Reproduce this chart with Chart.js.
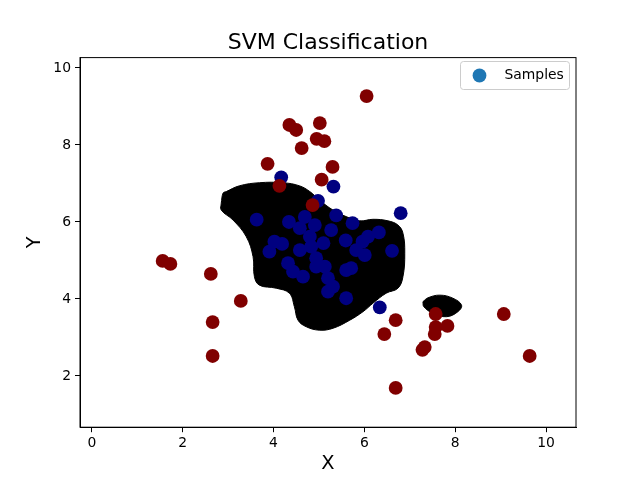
<!DOCTYPE html>
<html>
<head>
<meta charset="utf-8">
<script src="https://cdn.jsdelivr.net/npm/chart.js@4.4.0/dist/chart.umd.min.js"></script>
<style>
  body { margin: 0; background: #fff; }
</style>
</head>
<body>
<canvas id="svmChart" width="640" height="480"></canvas>
<script>
// class 0 samples (blue)
var blueX = [4.17, 5.32, 4.98, 6.80, 3.63, 4.34, 4.69, 4.91, 5.38, 5.74, 5.27, 4.58, 4.80, 6.32, 6.08, 5.96, 5.59, 5.10, 4.83, 4.02,
             4.19, 3.91, 4.58, 5.82, 6.61, 6.01, 4.94, 4.32, 4.43, 4.65, 4.94, 5.13, 5.60, 5.71, 5.20, 5.31, 5.20, 5.60, 6.34];
var blueY = [7.16, 6.92, 6.55, 6.23, 6.06, 6.00, 6.13, 5.92, 6.17, 5.97, 5.79, 5.84, 5.62, 5.73, 5.62, 5.49, 5.52, 5.45, 5.36, 5.49,
             5.43, 5.23, 5.27, 5.27, 5.25, 5.14, 5.06, 4.93, 4.71, 4.58, 4.84, 4.84, 4.75, 4.80, 4.54, 4.32, 4.19, 4.02, 3.78];

// class 1 samples (red)
var redX = [6.05, 4.35, 4.50, 5.02, 4.62, 4.95, 5.12, 3.87, 5.30, 5.06, 4.13, 4.86, 1.56, 1.73, 2.62, 3.28, 2.66, 2.66, 6.44, 6.69,
            6.69, 7.28, 7.33, 7.57, 7.57, 7.55, 7.83, 9.07, 9.64];
var redY = [9.27, 8.52, 8.39, 8.57, 7.92, 8.16, 8.10, 7.51, 7.43, 7.10, 6.94, 6.44, 4.99, 4.91, 4.65, 3.95, 3.40, 2.52, 3.09, 3.45,
            1.69, 2.68, 2.75, 3.61, 3.27, 3.09, 3.30, 3.61, 2.52];

// decision region outlines
var regionAX = [2.85, 2.89, 2.96, 3.25, 3.69, 4.21, 4.57, 4.80, 5.01, 5.31, 5.60, 5.90, 6.19, 6.52, 6.74, 6.85, 6.89, 6.85, 6.74, 6.48,
                6.19, 5.97, 5.68, 5.31, 5.01, 4.72, 4.54, 4.46, 4.35, 4.06, 3.69, 3.58, 3.55, 3.40, 3.11, 2.85, 2.85];
var regionAY = [6.49, 6.75, 6.79, 6.94, 7.02, 7.02, 6.94, 6.79, 6.57, 6.31, 6.14, 6.03, 6.07, 6.03, 5.92, 5.71, 5.19, 4.58, 4.28, 4.15,
                3.89, 3.67, 3.45, 3.24, 3.19, 3.28, 3.45, 3.80, 4.15, 4.28, 4.36, 4.58, 5.10, 5.62, 6.05, 6.31, 6.49];
var regionBX = [7.29, 7.40, 7.66, 7.95, 8.14, 8.06, 7.81, 7.51, 7.31, 7.29];
var regionBY = [3.93, 4.03, 4.10, 4.02, 3.84, 3.67, 3.54, 3.63, 3.80, 3.93];

var xTicks = [0, 2, 4, 6, 8, 10];
var yTicks = [2, 4, 6, 8, 10];

function toPoints(xs, ys) {
	return xs.map(function(x, i){ return {x: x, y: ys[i]}; });
}

Chart.defaults.font.family = 'DejaVu Sans';
Chart.defaults.color = '#000';

// frame, title and legend box the way matplotlib lays them out
var decorPlugin = {
	id: 'decor',
	afterDatasetsDraw: function(chart){
		var ctx = chart.ctx, a = chart.chartArea;
		ctx.save();
		ctx.strokeStyle = '#000';
		ctx.lineWidth = 1;
		ctx.strokeRect(a.left, a.top, a.right - a.left, a.bottom - a.top);
		ctx.restore();
	},
	afterDraw: function(chart){
		var ctx = chart.ctx, a = chart.chartArea;
		ctx.save();
		ctx.fillStyle = '#000';
		ctx.font = '22px "DejaVu Sans"';
		ctx.textAlign = 'center';
		ctx.textBaseline = 'alphabetic';
		ctx.fillText('SVM Classification', (a.left + a.right) / 2, 49.3);

		// legend
		ctx.beginPath();
		ctx.roundRect(460.5, 61.5, 109, 28, 3);
		ctx.fillStyle = 'rgba(255,255,255,0.8)';
		ctx.fill();
		ctx.strokeStyle = '#cccccc';
		ctx.lineWidth = 1;
		ctx.stroke();

		ctx.beginPath();
		ctx.arc(479.5, 75.5, 6.9, 0, Math.PI * 2);
		ctx.fillStyle = '#1f77b4';
		ctx.fill();

		ctx.fillStyle = '#000';
		ctx.font = '13.9px "DejaVu Sans"';
		ctx.textAlign = 'left';
		ctx.textBaseline = 'middle';
		ctx.fillText('Samples', 504.5, 75.5);
		ctx.restore();
	}
};

var ctx = document.getElementById('svmChart').getContext('2d');
var svmChart = new Chart(ctx, {
	type: 'scatter',
	data: {
		datasets: [
			{ label: 'Samples', data: toPoints(redX, redY), backgroundColor: '#800000', borderWidth: 0, pointRadius: 6.9, pointHoverRadius: 6.9, order: 1 },
			{ label: 'Samples', data: toPoints(blueX, blueY), backgroundColor: '#000080', borderWidth: 0, pointRadius: 6.9, pointHoverRadius: 6.9, order: 2 },
			{ label: 'regionA', data: toPoints(regionAX, regionAY), showLine: true, fill: 'shape', tension: 0.4,
			  backgroundColor: '#000', borderColor: '#000', borderWidth: 1, pointRadius: 0, order: 3 },
			{ label: 'regionB', data: toPoints(regionBX, regionBY), showLine: true, fill: 'shape', tension: 0.4,
			  backgroundColor: '#000', borderColor: '#000', borderWidth: 1, pointRadius: 0, order: 3 }
		]
	},
	options: {
		responsive: false,
		animation: false,
		events: [],
		layout: { padding: { top: 57.6, right: 64, left: 0, bottom: 0 } },
		plugins: {
			legend: { display: false },
			title: { display: false },
			tooltip: { enabled: false }
		},
		scales: {
			x: {
				type: 'linear',
				min: -0.26, max: 10.66,
				afterBuildTicks: function(scale){ scale.ticks = xTicks.map(function(v){ return {value: v}; }); },
				afterFit: function(scale){ scale.height = 52.8; },
				grid: { drawOnChartArea: false, color: '#000', tickLength: 5, lineWidth: 1 },
				border: { display: true, color: '#000', width: 1 },
				ticks: { font: { size: 13.9 }, padding: 3, maxRotation: 0, color: '#000' },
				title: { display: true, text: 'X', font: { size: 19.4 }, color: '#000', padding: { top: 0, bottom: 4.4 } }
			},
			y: {
				type: 'linear',
				min: 0.67, max: 10.27,
				afterBuildTicks: function(scale){ scale.ticks = yTicks.map(function(v){ return {value: v}; }); },
				afterFit: function(scale){ scale.width = 80; },
				grid: { drawOnChartArea: false, color: '#000', tickLength: 5, lineWidth: 1 },
				border: { display: true, color: '#000', width: 1 },
				ticks: { font: { size: 13.9 }, padding: 4, color: '#000' },
				title: { display: true, text: 'Y', font: { size: 19.4 }, color: '#000', padding: { top: 23.4, bottom: 0 } }
			}
		}
	},
	plugins: [decorPlugin]
});
</script>
</body>
</html>
